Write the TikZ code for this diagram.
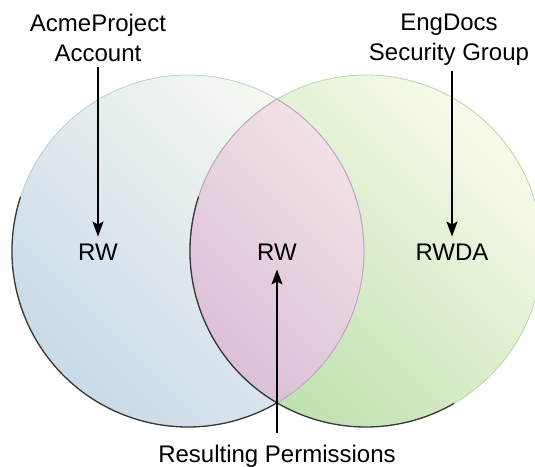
\documentclass[tikz,border=0pt]{standalone}
\usepackage{fontspec}
\setmainfont{Liberation Sans}
\usetikzlibrary{positioning,arrows.meta}

\definecolor{acmelight}{HTML}{F7F9F1}
\definecolor{acmedark}{HTML}{C9DAE8}
\definecolor{englight}{HTML}{F8FAEA}
\definecolor{engdark}{HTML}{BDE0AD}
\definecolor{reslight}{HTML}{FCF4F0}
\definecolor{resdark}{HTML}{DCC0D6}
\definecolor{acmeedge}{HTML}{B8CCDD}
\definecolor{engedge}{HTML}{B2D8A2}
\definecolor{resedge}{HTML}{C4A0C0}
\definecolor{shadowedge}{HTML}{383838}

\begin{document}
\begin{tikzpicture}[x=1pt,y=-1pt,
    permtext/.style={font=\fontsize{24}{30}\selectfont, inner sep=0pt, align=center},
    pointer/.style={-{Stealth[length=15pt,width=11pt,inset=3pt]}, line width=1.8pt}]
    \useasboundingbox (0,0) rectangle (535,466);

    % the two sets
    \begin{scope}
        \clip (0,0) rectangle (535,466);
        \shade[top color=acmelight, bottom color=acmedark, shading angle=-45] (188,251) circle[radius=176];
        \shade[top color=englight, bottom color=engdark, shading angle=-45] (366,251) circle[radius=176];
        \begin{scope}
            \clip (188,251) circle[radius=176];
            \shade[top color=reslight, bottom color=resdark, shading angle=-45] (366,251) circle[radius=176];
        \end{scope}

        % outlines, darker on the lower left
        \draw[acmeedge, line width=0.8pt] (188,251) circle[radius=176];
        \draw[engedge, line width=0.8pt] (366,251) circle[radius=176];
        \begin{scope}
            \clip (188,251) circle[radius=176];
            \draw[resedge, line width=0.8pt] (366,251) circle[radius=176];
        \end{scope}
        \begin{scope}
            \clip (366,251) circle[radius=176];
            \draw[resedge, line width=0.8pt] (188,251) circle[radius=176];
        \end{scope}
        \draw[shadowedge, line width=1.3pt] (188,251) ++(198:176) arc[start angle=198, end angle=60, radius=176];
        \draw[shadowedge, line width=1.3pt] (366,251) ++(198:176) arc[start angle=198, end angle=60, radius=176];
    \end{scope}

    % labels
    \node[permtext, anchor=north] (acct) at (98,14) {AcmeProject\\Account};
    \node[permtext, anchor=north] (grp) at (449,14) {EngDocs\\Security Group};
    \node[permtext] (rwacct) at (98,252) {RW};
    \node[permtext] (rwres) at (277,252) {RW};
    \node[permtext] (rwda) at (452,252) {RWDA};
    \node[permtext, anchor=base] (result) at (277,462) {Resulting Permissions};

    % arrows
    \draw[pointer] ([yshift=-5pt]acct.south) -- ([yshift=7pt]rwacct.north);
    \draw[pointer] ([yshift=-5pt]rwda.north |- grp.south) -- ([yshift=7pt]rwda.north);
    \draw[pointer] ([yshift=11pt]result.north) -- ([yshift=-9pt]rwres.south);
\end{tikzpicture}
\end{document}
